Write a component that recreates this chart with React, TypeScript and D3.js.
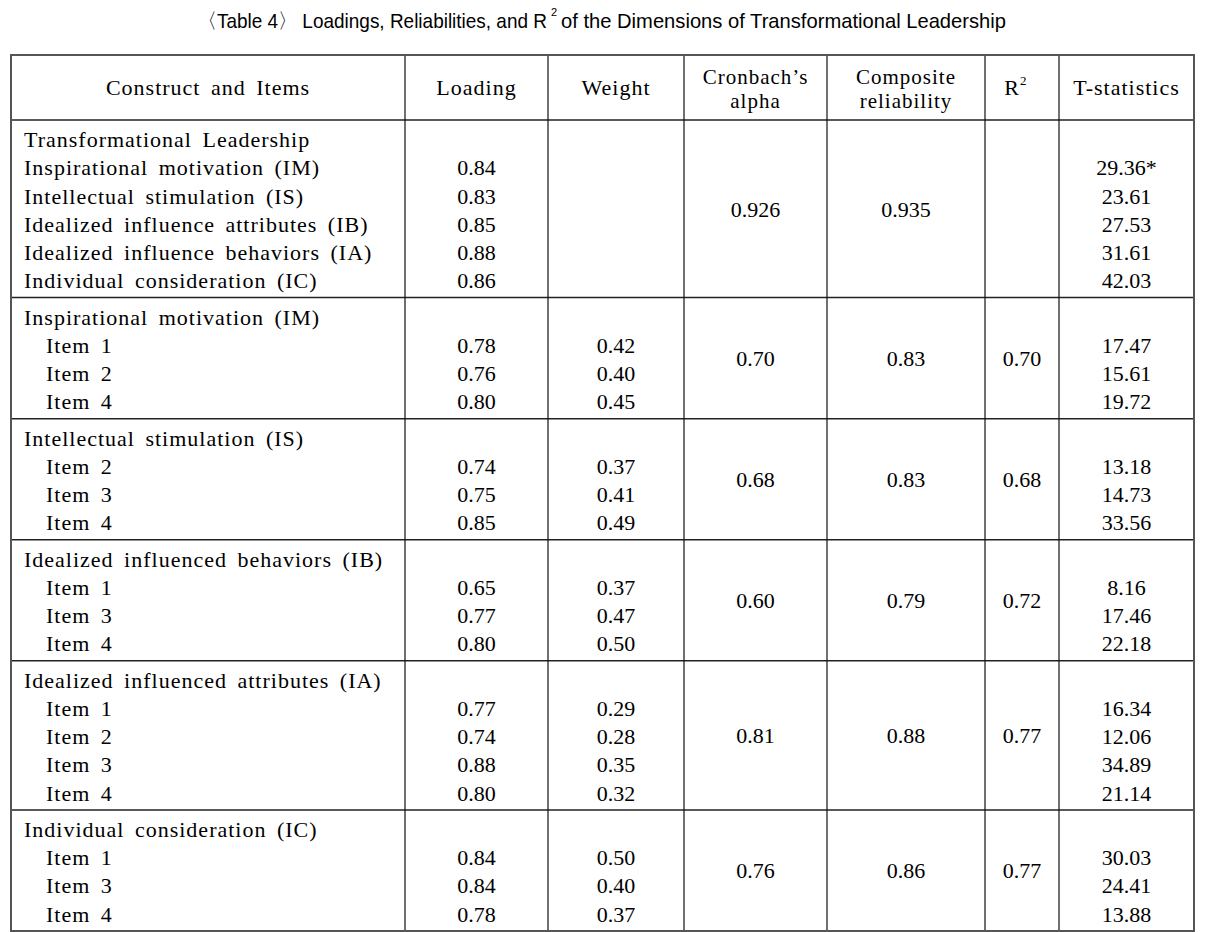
import React from 'react';
import * as d3 from 'd3';

// header labels (one entry per column, multi-line as arrays)
const headers = [
  ['Construct and Items'],
  ['Loading'],
  ['Weight'],
  ['Cronbach’s', 'alpha'],
  ['Composite', 'reliability'],
  ['R2'],
  ['T-statistics'],
];

const sectionTitles = [
  'Transformational Leadership',
  'Inspirational motivation (IM)',
  'Intellectual stimulation (IS)',
  'Idealized influenced behaviors (IB)',
  'Idealized influenced attributes (IA)',
  'Individual consideration (IC)',
];

const sectionItems = [
  [
    'Inspirational motivation (IM)',
    'Intellectual stimulation (IS)',
    'Idealized influence attributes (IB)',
    'Idealized influence behaviors (IA)',
    'Individual consideration (IC)',
  ],
  ['Item 1', 'Item 2', 'Item 4'],
  ['Item 2', 'Item 3', 'Item 4'],
  ['Item 1', 'Item 3', 'Item 4'],
  ['Item 1', 'Item 2', 'Item 3', 'Item 4'],
  ['Item 1', 'Item 3', 'Item 4'],
];

const loadings = [
  [0.84, 0.83, 0.85, 0.88, 0.86],
  [0.78, 0.76, 0.8],
  [0.74, 0.75, 0.85],
  [0.65, 0.77, 0.8],
  [0.77, 0.74, 0.88, 0.8],
  [0.84, 0.84, 0.78],
];

const weights = [
  [],
  [0.42, 0.4, 0.45],
  [0.37, 0.41, 0.49],
  [0.37, 0.47, 0.5],
  [0.29, 0.28, 0.35, 0.32],
  [0.5, 0.4, 0.37],
];

const alphas = ['0.926', '0.70', '0.68', '0.60', '0.81', '0.76'];
const composites = ['0.935', '0.83', '0.83', '0.79', '0.88', '0.86'];
const rSquared = ['', '0.70', '0.68', '0.72', '0.77', '0.77'];

const tStats = [
  ['29.36*', '23.61', '27.53', '31.61', '42.03'],
  ['17.47', '15.61', '19.72'],
  ['13.18', '14.73', '33.56'],
  ['8.16', '17.46', '22.18'],
  ['16.34', '12.06', '34.89', '21.14'],
  ['30.03', '24.41', '13.88'],
];

const W = 1214;
const H = 932;
const colEdges = [11, 405, 548, 684, 827, 985, 1059, 1194];
const tableTop = 55;
const headerBottom = 120;
const tableBottom = 931;
const padUnits = 0.276; // extra space per section, in line units

const serif = '"Liberation Serif", "Times New Roman", serif';
const sans = '"Liberation Sans", Arial, sans-serif';
const fmt = d3.format('.2f');

export default function App() {
  // each section: title line + item lines + padding
  const sectionUnits = sectionItems.map((items) => items.length + 1 + padUnits);
  const starts = Array.from(d3.cumsum([0, ...sectionUnits])) as number[];
  const totalUnits = starts[starts.length - 1];

  const y = d3.scaleLinear().domain([0, totalUnits]).range([headerBottom, tableBottom]);
  const colCenter = (i: number) => (colEdges[i] + colEdges[i + 1]) / 2;
  // baseline of line j inside section s
  const lineY = (s: number, j: number) => y(starts[s] + padUnits / 2 + j) + 23;
  const midY = (s: number) => (y(starts[s]) + y(starts[s + 1])) / 2 + 8;

  const wordStyle = { letterSpacing: '1px', wordSpacing: '4px' } as React.CSSProperties;

  return (
    <svg width={W} height={H} style={{ position: 'absolute', left: 0, top: 0, background: '#fff' }}>
      <rect x={0} y={0} width={W} height={H} fill="#fff" />
      {/* title */}
      <g fontFamily={sans} fill="#000">
        <text x={198} y={28} fontSize={21} textLength={349} lengthAdjust="spacingAndGlyphs">
          〈Table 4〉 Loadings, Reliabilities, and R
        </text>
        <text x={551} y={16} fontSize={11}>
          2
        </text>
        <text x={561} y={28} fontSize={21} textLength={445} lengthAdjust="spacingAndGlyphs">
          of the Dimensions of Transformational Leadership
        </text>
      </g>

      {/* horizontal rules */}
      {starts.slice(1, -1).map((u, i) => (
        <line key={'h' + i} x1={colEdges[0]} x2={colEdges[7]} y1={y(u)} y2={y(u)} stroke="#222" strokeWidth={1.5} />
      ))}
      <line x1={colEdges[0]} x2={colEdges[7]} y1={headerBottom} y2={headerBottom} stroke="#222" strokeWidth={1.5} />
      {/* vertical rules */}
      {colEdges.slice(1, -1).map((x, i) => (
        <line key={'v' + i} x1={x} x2={x} y1={tableTop} y2={tableBottom} stroke="#111" strokeWidth={1.2} />
      ))}
      <rect
        x={colEdges[0]}
        y={tableTop}
        width={colEdges[7] - colEdges[0]}
        height={tableBottom - tableTop}
        fill="none"
        stroke="#555"
        strokeWidth={2}
      />

      <g fontFamily={serif} fontSize={22} fill="#000">
        {/* header */}
        {headers.map((lines, i) =>
          lines.map((t, k) => {
            const yy = lines.length === 1 ? 95 : 84 + k * 24;
            if (t === 'R2') {
              return (
                <g key={'hd' + i + k}>
                  <text x={colCenter(i) - 3} y={yy} textAnchor="end">
                    R
                  </text>
                  <text x={colCenter(i) - 2} y={yy - 10} fontSize={13}>
                    2
                  </text>
                </g>
              );
            }
            return (
              <text key={'hd' + i + k} x={colCenter(i)} y={yy} textAnchor="middle" fontSize={lines.length === 1 ? 22 : 21} style={wordStyle}>
                {t}
              </text>
            );
          })
        )}

        {sectionTitles.map((title, s) => (
          <g key={'s' + s}>
            <text x={24} y={lineY(s, 0)} style={wordStyle}>
              {title}
            </text>
            {sectionItems[s].map((item, j) => (
              <text key={'i' + j} x={s === 0 ? 24 : 46} y={lineY(s, j + 1)} style={wordStyle}>
                {item}
              </text>
            ))}
            {loadings[s].map((v, j) => (
              <text key={'l' + j} x={colCenter(1)} y={lineY(s, j + 1)} textAnchor="middle">
                {fmt(v)}
              </text>
            ))}
            {weights[s].map((v, j) => (
              <text key={'w' + j} x={colCenter(2)} y={lineY(s, j + 1)} textAnchor="middle">
                {fmt(v)}
              </text>
            ))}
            <text x={colCenter(3)} y={midY(s)} textAnchor="middle">
              {alphas[s]}
            </text>
            <text x={colCenter(4)} y={midY(s)} textAnchor="middle">
              {composites[s]}
            </text>
            <text x={colCenter(5)} y={midY(s)} textAnchor="middle">
              {rSquared[s]}
            </text>
            {tStats[s].map((v, j) => (
              <text key={'t' + j} x={colCenter(6)} y={lineY(s, j + 1)} textAnchor="middle">
                {v}
              </text>
            ))}
          </g>
        ))}
      </g>
    </svg>
  );
}
